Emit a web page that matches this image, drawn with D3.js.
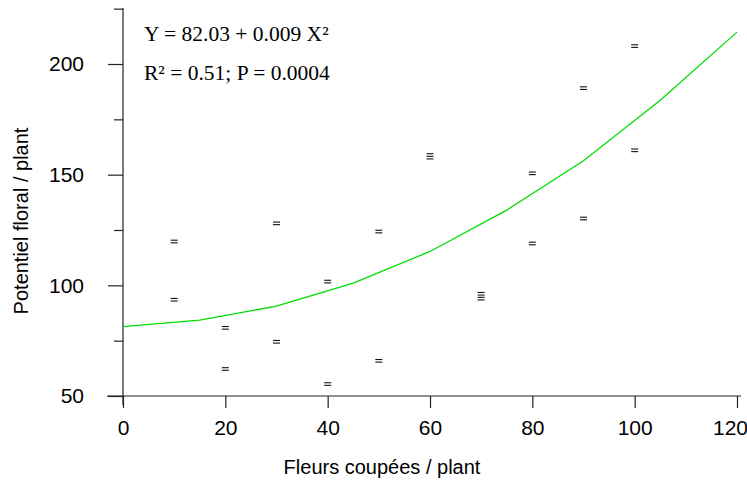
<!DOCTYPE html>
<html>
<head>
<meta charset="utf-8">
<script src="https://cdn.jsdelivr.net/npm/d3@7"></script>
<style>
  body { margin: 0; background: #fff; }
  svg { display: block; }
  .tick text { font-family: "Liberation Sans", Arial, sans-serif; font-size: 21px; fill: #000; }
</style>
</head>
<body>
<div id="chart"></div>
<script>
// observed points (fleurs coupées, potentiel floral) and how many stacked dashes each shows
var cutFlowers = [10, 10, 20, 20, 30, 30, 40, 40, 50, 50, 60, 70, 70, 80, 80, 90, 90, 100, 100];
var floralPotential = [119.8, 93.5, 80.8, 62.2, 128, 74.5, 101.7, 55.4, 124.3, 65.9, 158.3, 96.2, 94, 150.6, 118.9, 189.1, 130.2, 208.1, 161];
var dashCount = [2, 2, 2, 2, 2, 2, 2, 2, 2, 2, 3, 2, 2, 2, 2, 2, 2, 2, 2];

// fitted curve
var fitX = [0, 15, 30, 45, 60, 75, 90, 105, 120];
var fitY = [81.3, 84.3, 90.6, 101, 115.3, 134, 156.3, 183.6, 214.4];

var xTicks = [0, 20, 40, 60, 80, 100, 120];
var yTicks = [50, 100, 150, 200];
var yMinorTicks = [75, 125, 175, 225];

var labels = {
    x: "Fleurs coupées / plant",
    y: "Potentiel floral / plant",
    eq: "Y = 82.03 + 0.009 X²",
    stats: "R² = 0.51; P = 0.0004"
};

var width = 747, height = 480;

var svg = d3.select("#chart").append("svg")
    .attr("width", width)
    .attr("height", height);

var x = d3.scaleLinear().domain([0, 120]).range([123, 737]);
var y = d3.scaleLinear().domain([50, 200]).range([396, 64]);

// axis lines
svg.append("line")
    .attr("x1", 123).attr("x2", 123)
    .attr("y1", 8).attr("y2", 405)
    .attr("stroke", "#222").attr("stroke-width", 1.2);

svg.append("line")
    .attr("x1", 107).attr("x2", 741)
    .attr("y1", 396).attr("y2", 396)
    .attr("stroke", "#222").attr("stroke-width", 1.2);

// y axis
svg.append("g")
    .attr("transform", "translate(123,0)")
    .call(d3.axisLeft(y).tickValues(yTicks).tickSize(15).tickPadding(24));

svg.append("g")
    .attr("transform", "translate(123,0)")
    .call(d3.axisLeft(y).tickValues(yMinorTicks).tickSize(9).tickFormat(""));

// x axis
var xAxis = svg.append("g")
    .attr("transform", "translate(0,396)")
    .call(d3.axisBottom(x).tickValues(xTicks).tickSize(12).tickPadding(12));

// keep the last label inside the window
xAxis.selectAll(".tick text")
    .filter(function (d) { return d === 120; })
    .attr("dx", "-7");

svg.selectAll(".domain").remove();
svg.selectAll(".tick line").attr("stroke", "#222").attr("stroke-width", 1.2);

// titles
svg.append("text")
    .attr("x", 382).attr("y", 474)
    .attr("text-anchor", "middle")
    .style("font-family", "Liberation Sans, Arial, sans-serif")
    .style("font-size", "20px")
    .attr("fill", "#000")
    .text(labels.x);

svg.append("text")
    .attr("transform", "translate(28,221) rotate(-90)")
    .attr("text-anchor", "middle")
    .style("font-family", "Liberation Sans, Arial, sans-serif")
    .style("font-size", "20px")
    .attr("fill", "#000")
    .text(labels.y);

// equation
svg.append("text")
    .attr("x", 144).attr("y", 41)
    .style("font-family", "Liberation Serif, Times New Roman, serif")
    .style("font-size", "21.5px")
    .attr("fill", "#000")
    .text(labels.eq);

svg.append("text")
    .attr("x", 144).attr("y", 80)
    .style("font-family", "Liberation Serif, Times New Roman, serif")
    .style("font-size", "21.5px")
    .attr("fill", "#000")
    .text(labels.stats);

// fitted curve
var line = d3.line()
    .x(function (d, i) { return x(fitX[i]); })
    .y(function (d) { return y(d); });

svg.append("path")
    .datum(fitY)
    .attr("d", line)
    .attr("fill", "none")
    .attr("stroke", "#00dd00")
    .attr("stroke-width", 1.3);

// points drawn as little stacked dashes
var pts = cutFlowers.map(function (d, i) {
    return { x: d, y: floralPotential[i], n: dashCount[i] };
});

var marks = svg.append("g").selectAll("g")
    .data(pts)
    .enter()
    .append("g")
    .attr("transform", function (d) {
        return "translate(" + x(d.x) + "," + y(d.y) + ")";
    });

marks.each(function (d) {
    var g = d3.select(this);
    for (var k = 0; k < d.n; k++) {
        var off = (k - (d.n - 1) / 2) * 2.6;
        g.append("line")
            .attr("x1", -3.5).attr("x2", 3.5)
            .attr("y1", off).attr("y2", off)
            .attr("stroke", "#111")
            .attr("stroke-width", 1.1);
    }
});
</script>
</body>
</html>
